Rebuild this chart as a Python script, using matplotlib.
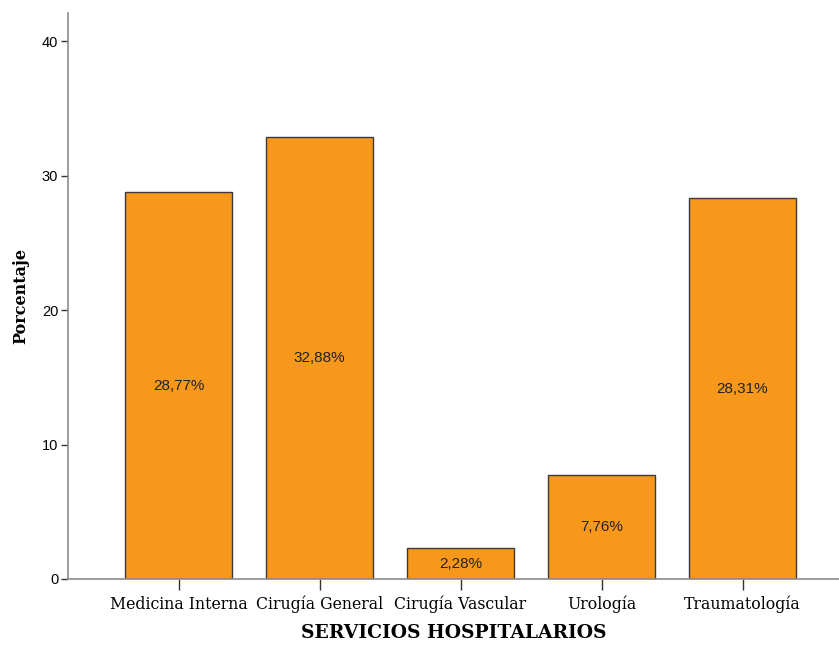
import matplotlib
matplotlib.use('Agg')
import matplotlib.pyplot as plt

servicios = ['Medicina Interna', 'Cirugía General', 'Cirugía Vascular', 'Urología', 'Traumatología']
porcentajes = [28.77, 32.88, 2.28, 7.76, 28.31]
yticks = [0, 10, 20, 30, 40]

fig = plt.figure(figsize=(8.39, 6.45), dpi=100)
ax = fig.add_axes([68 / 839, (645 - 579) / 645, (839 - 68) / 839, (579 - 13) / 645])

pos = list(range(len(servicios)))
bars = ax.bar(pos, porcentajes, width=0.76, color='#F7981D', edgecolor='#3a3a3a', linewidth=1.0, zorder=2)

for b, v in zip(bars, porcentajes):
    ax.text(b.get_x() + b.get_width() / 2, v / 2, f'{v:.2f}%'.replace('.', ','),
            ha='center', va='center', fontsize=11, family='Liberation Sans', color='#222222')

ax.set_xlim(-0.784, 4.684)
ax.set_ylim(0, 42.1)
ax.set_xticks(pos)
ax.set_xticklabels(servicios, family='DejaVu Serif', fontsize=11.3)
ax.set_yticks(yticks)
ax.set_yticklabels([str(t) for t in yticks], family='Liberation Sans', fontsize=10.5)

for s in ['top', 'right']:
    ax.spines[s].set_visible(False)
for s in ['left', 'bottom']:
    ax.spines[s].set_color('#8c8c8c')
    ax.spines[s].set_linewidth(1.2)
ax.tick_params(axis='both', direction='out', length=5, width=1, color='#333333', pad=2)
ax.tick_params(axis='x', length=8, pad=4)

ax.set_ylabel('Porcentaje', family='DejaVu Serif', fontweight='bold', fontsize=11.5, labelpad=9)
ax.set_xlabel('SERVICIOS HOSPITALARIOS', family='DejaVu Serif', fontweight='bold', fontsize=13.5, labelpad=8)

fig.savefig('out.png', dpi=100)
